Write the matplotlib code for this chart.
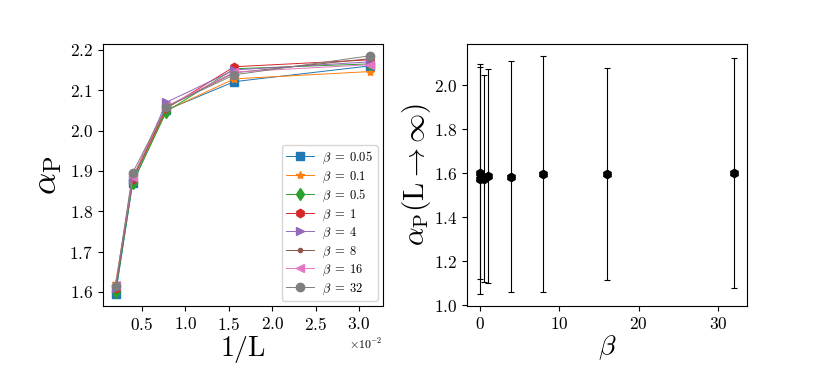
import matplotlib
matplotlib.use("Agg")
import matplotlib.pyplot as plt
from matplotlib.ticker import MultipleLocator

plt.rcParams['font.family'] = 'serif'
plt.rcParams['font.serif'] = ['cmr10']
plt.rcParams['mathtext.fontset'] = 'cm'
plt.rcParams['axes.formatter.use_mathtext'] = True

# system sizes and betas
L_list = [512, 256, 128, 64, 32]
inv_L = [1.0 / L for L in L_list]
betas = [0.05, 0.1, 0.5, 1, 4, 8, 16, 32]
beta_labels = ['0.05', '0.1', '0.5', '1', '4', '8', '16', '32']

# alpha_P vs 1/L, one row per beta
alpha_b005 = [1.595, 1.869, 2.051, 2.121, 2.160]
alpha_b01 = [1.622, 1.878, 2.050, 2.128, 2.146]
alpha_b05 = [1.600, 1.870, 2.047, 2.153, 2.165]
alpha_b1 = [1.610, 1.880, 2.055, 2.158, 2.175]
alpha_b4 = [1.610, 1.880, 2.070, 2.150, 2.170]
alpha_b8 = [1.610, 1.880, 2.058, 2.143, 2.178]
alpha_b16 = [1.618, 1.885, 2.060, 2.145, 2.163]
alpha_b32 = [1.615, 1.895, 2.059, 2.138, 2.185]
alpha_all = [alpha_b005, alpha_b01, alpha_b05, alpha_b1,
             alpha_b4, alpha_b8, alpha_b16, alpha_b32]

markers = ['s', '*', 'd', 'h', '>', '.', '<', 'o']

# extrapolated alpha_P(L -> inf) with errors
alpha_inf = [1.600, 1.575, 1.575, 1.587, 1.585, 1.596, 1.596, 1.602]
alpha_err = [0.482, 0.523, 0.470, 0.487, 0.526, 0.537, 0.481, 0.523]

fig = plt.figure(figsize=(8.3, 3.69), dpi=100)
ax1 = fig.add_axes([0.124, 0.171, 0.337, 0.710])
ax2 = fig.add_axes([0.563, 0.171, 0.337, 0.710])

for i in range(len(betas)):
    ax1.plot(inv_L, alpha_all[i], marker=markers[i], lw=0.7, ms=6,
             label=r'$\beta\;=\;%s$' % beta_labels[i])
ax1.xaxis.set_major_locator(MultipleLocator(0.005))
ax1.ticklabel_format(axis='x', style='sci', scilimits=(0, 0), useMathText=True)
ax1.xaxis.get_offset_text().set_fontsize(8.5)
ax1.set_xlabel(r'$1/\mathrm{L}$', fontsize=20, labelpad=1)
ax1.set_ylabel(r'$\alpha_{\mathrm{P}}$', fontsize=25)
ax1.tick_params(labelsize=12.5)
ax1.legend(loc='lower right', fontsize=9, handlelength=2.2,
           labelspacing=0.25, borderaxespad=0.4, borderpad=0.35,
           handletextpad=0.7)

ax2.errorbar(betas, alpha_inf, yerr=alpha_err, fmt='h', color='black',
             ms=6, elinewidth=0.8, capsize=2.5, capthick=0.8)
ax2.set_xlabel(r'$\beta$', fontsize=20, labelpad=1)
ax2.set_ylabel(r'$\alpha_{\mathrm{P}}(\mathrm{L} \to \infty)$', fontsize=21, labelpad=1)
ax2.tick_params(labelsize=12.5)

fig.savefig('out.png', dpi=100)
